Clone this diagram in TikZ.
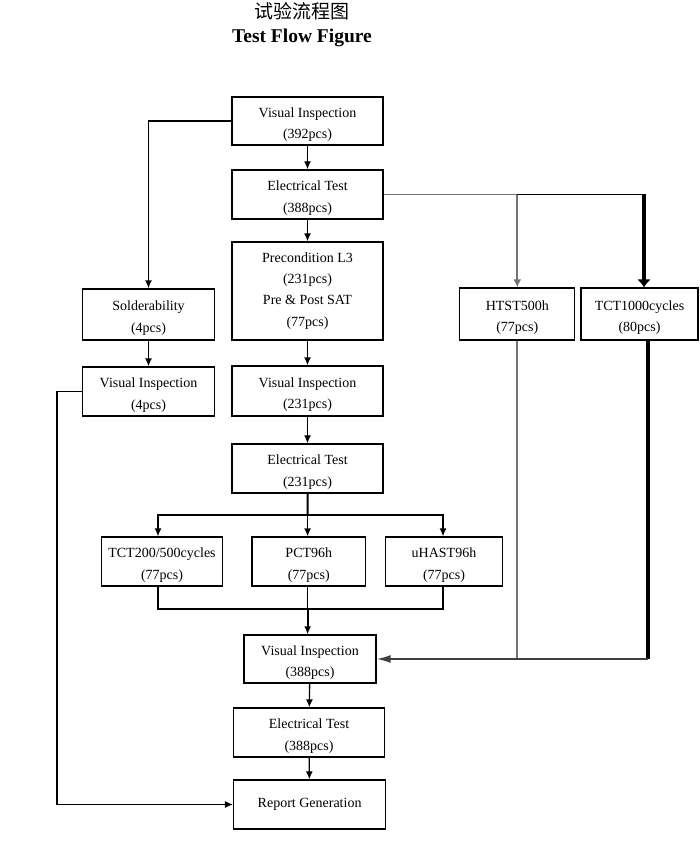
\documentclass[tikz,border=0pt]{standalone}
\usepackage{fontspec}
\setmainfont{Liberation Serif}
\newfontfamily\cjk{Noto Sans CJK SC}
\usepackage{tikz}
\usetikzlibrary{positioning,arrows.meta}
\newcommand{\boxtext}{\fontsize{14}{21.2}\selectfont}

\begin{document}
\begin{tikzpicture}[x=1pt,y=-1pt,
  box/.style={draw, line width=1.3pt, inner sep=0pt, align=center, font=\boxtext},
  lowered/.style={text height=38pt},
  arr/.style={line width=1.3pt, -{Latex[length=8pt,width=7pt]}},
  grayline/.style={line width=1.8pt, draw=black!55},
  heavy/.style={line width=3.5pt}]
  \useasboundingbox (0,0) rectangle (699,850);

  \node (cn) at (302,11) {\cjk\fontsize{19}{19}\selectfont 试验流程图};
  \node (en) at (302,38) {\fontsize{19.5}{19.5}\selectfont\bfseries Test Flow Figure};

  \node (vi1) [box, lowered, minimum width=151pt, minimum height=48pt] at (307.5,121) {Visual Inspection\\(392pcs)};
  \node (et1) [box, lowered, minimum width=151pt, minimum height=49pt] at (307.5,194.5) {Electrical Test\\(388pcs)};
  \node (pre) [box, minimum width=151pt, minimum height=98pt] at (307.5,291) {Precondition L3\\(231pcs)\\Pre \& Post SAT\\(77pcs)};

  \node (sold) [box, lowered, minimum width=132pt, minimum height=51pt] at (148.5,314.5) {Solderability\\(4pcs)};
  \node (vi4) [box, lowered, minimum width=132pt, minimum height=49pt] at (148.5,391.5) {Visual Inspection\\(4pcs)};

  \node (htst) [box, lowered, minimum width=115pt, minimum height=52pt] at (517.3,314) {HTST500h\\(77pcs)};
  \node (tctk) [box, lowered, minimum width=117pt, minimum height=52pt] at (639.5,314) {TCT1000cycles\\(80pcs)};

  \node (vi231) [box, lowered, minimum width=151pt, minimum height=50pt] at (307.5,391) {Visual Inspection\\(231pcs)};
  \node (et231) [box, lowered, minimum width=151pt, minimum height=49pt] at (307.5,468.5) {Electrical Test\\(231pcs)};

  \node (tct) [box, lowered, minimum width=121pt, minimum height=49pt] at (162,561.5) {TCT200/500cycles\\(77pcs)};
  \node (pct) [box, lowered, minimum width=113.6pt, minimum height=49pt] at (308.8,561.5) {PCT96h\\(77pcs)};
  \node (uhast) [box, lowered, minimum width=117pt, minimum height=49pt] at (444,561.5) {uHAST96h\\(77pcs)};

  \node (vi388) [box, lowered, minimum width=132pt, minimum height=48pt] at (310,659) {Visual Inspection\\(388pcs)};
  \node (et388) [box, lowered, minimum width=151pt, minimum height=49pt] at (309,732.5) {Electrical Test\\(388pcs)};
  \node (rep) [box, minimum width=152pt, minimum height=49pt] at (309.6,804.5) {Report Generation};

  % left branch
  \draw [arr] (vi1.west) -| (sold.north);
  \draw [arr] (sold) -- (vi4);
  \coordinate (lft) at (57,391.5);
  \draw [arr] (vi4.west) -- (lft) |- (rep.west);

  % main column
  \draw [arr] (vi1) -- (et1);
  \draw [arr] (et1) -- (pre);
  \draw [arr] (pre) -- (vi231);
  \draw [arr] (vi231) -- (et231);

  % right branch
  \coordinate (j1) at (htst.north |- et1.east);
  \coordinate (j2) at (644,194.5);
  \draw [grayline] (et1.east) -- (j1);
  \draw [grayline, -{Latex[length=8pt,width=8pt]}] (j1) -- (htst.north);
  \draw [line width=1.3pt] (j1) -- (j2);
  \draw [heavy, -{Latex[length=8pt,width=14pt]}] (j2) -- (j2 |- tctk.north);
  \coordinate (j3) at (648,340);
  \coordinate (j4) at (j3 |- vi388.east);
  \draw [heavy] (j3) -- (j4);
  \draw [grayline] (htst.south) -- (htst.south |- vi388.east);
  \draw [line width=1.6pt, draw=black!75, -{Latex[length=14pt,width=8pt]}] (j4) -- (vi388.east);

  % tests
  \coordinate (sp) at (307.6,515);
  \draw [line width=2pt] (et231.south) -- (sp);
  \draw [arr] (sp) -| ([xshift=-4pt]tct.north);
  \draw [arr] (sp) -| ([xshift=-1pt]uhast.north);
  \draw [arr] (sp) -- (sp |- pct.north);
  \coordinate (mg) at (307.6,609);
  \draw [line width=1.3pt] ([xshift=-4pt]tct.south) |- (mg);
  \draw [line width=1.3pt] ([xshift=-1pt]uhast.south) |- (mg);
  \draw [line width=1.3pt] (mg |- pct.south) -- (mg);
  \draw [arr, line width=2pt] (mg) -- (mg |- vi388.north);

  \draw [arr] (vi388) -- (et388);
  \draw [arr] (et388) -- (rep);

\end{tikzpicture}
\end{document}
